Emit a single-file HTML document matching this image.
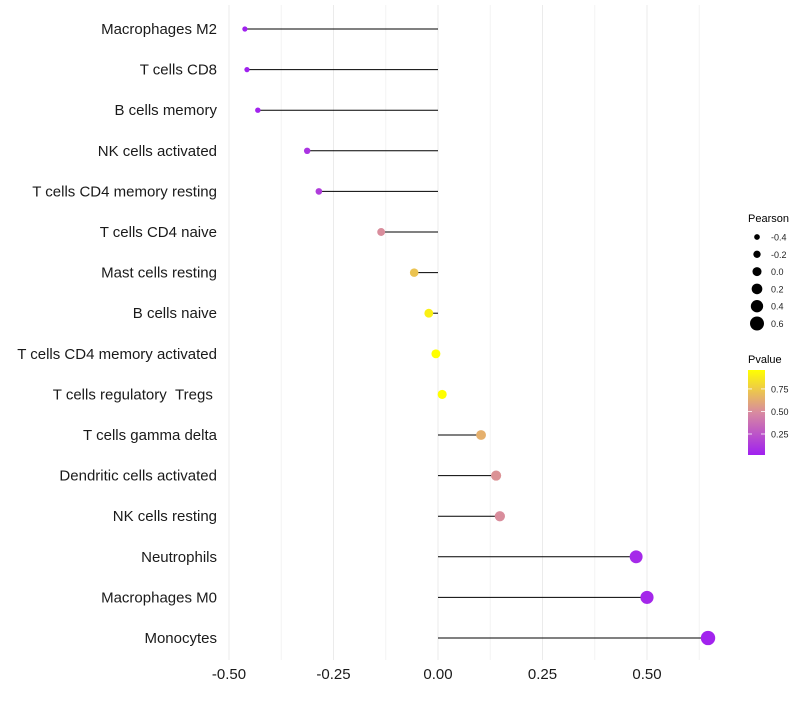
<!DOCTYPE html>
<html><head><meta charset="utf-8"><style>
body{margin:0;background:#fff;font-family:"Liberation Sans",sans-serif}
text{white-space:pre}
</style></head><body>
<svg id="c" width="800" height="700" xmlns="http://www.w3.org/2000/svg">
<defs><linearGradient id="pg" x1="0" y1="1" x2="0" y2="0">
<stop offset="0" stop-color="#a020f0"/><stop offset="0.5" stop-color="#d88aa0"/><stop offset="1" stop-color="#ffff00"/></linearGradient></defs>
</svg>
<script>
const categories=["Macrophages M2","T cells CD8","B cells memory","NK cells activated","T cells CD4 memory resting","T cells CD4 naive","Mast cells resting","B cells naive","T cells CD4 memory activated","T cells regulatory\u00a0\u00a0Tregs\u00a0","T cells gamma delta","Dendritic cells activated","NK cells resting","Neutrophils","Macrophages M0","Monocytes"];
const pearson=[-0.462,-0.457,-0.431,-0.313,-0.285,-0.136,-0.057,-0.022,-0.005,0.010,0.103,0.139,0.148,0.474,0.500,0.646];
const pvalue=[0.02,0.02,0.03,0.10,0.14,0.50,0.72,0.90,0.97,0.96,0.64,0.52,0.50,0.06,0.05,0.03];
const xTicks=[-0.5,-0.25,0,0.25,0.5];
const xTickLabels=["-0.50","-0.25","0.00","0.25","0.50"];
const sizeLegend=[-0.4,-0.2,0.0,0.2,0.4,0.6];
const pLegend=[0.25,0.50,0.75];
const svg=document.getElementById('c');
const NS="http://www.w3.org/2000/svg";
const x=v=>438+v*418;
const y=i=>29+i*40.6;
const r=v=>2.6+(v+0.46)/(1.11)*4.6;
function col(p){
 const t=Math.max(0,Math.min(1,(p-0.017)/(0.96-0.017)));
 const a=[160,32,240],m=[216,138,160],b=[255,255,0];
 let c;if(t<0.5){const u=t/0.5;c=a.map((v,k)=>v+(m[k]-v)*u);}else{const u=(t-0.5)/0.5;c=m.map((v,k)=>v+(b[k]-v)*u);}
 return `rgb(${c.map(Math.round).join(',')})`;
}
function mk(tag,attrs,parent){const e=document.createElementNS(NS,tag);for(const k in attrs)e.setAttribute(k,attrs[k]);(parent||svg).appendChild(e);return e;}
for(let v=-0.5;v<=0.651;v+=0.125){
 const g=mk('line',{x1:x(v),x2:x(v),y1:5,y2:660,stroke:Math.abs((v*4)%1)<1e-6?'#ebebeb':'#f4f4f4','stroke-width':1});
 
 
}
categories.forEach((c,i)=>{
 const t=mk('text',{x:217,y:y(i)+5,'text-anchor':'end','font-size':15,fill:'#1a1a1a'});
 t.textContent=c;
 
 
 const l=mk('line',{x1:x(0),x2:x(pearson[i]),y1:y(i),y2:y(i),stroke:'#000','stroke-width':1});
 
 
 const p=mk('circle',{cx:x(pearson[i]),cy:y(i),r:r(pearson[i]),fill:col(pvalue[i])});
 
 
});
xTicks.forEach((v,i)=>{
 const t=mk('text',{x:x(v),y:679,'text-anchor':'middle','font-size':15,fill:'#1a1a1a'});
 t.textContent=xTickLabels[i];
 
 
});
let t=mk('text',{x:748,y:222,'font-size':11,fill:'#000'});t.textContent='Pearson';


sizeLegend.forEach((v,i)=>{
 const cy=237+i*17.3;
 const c=mk('circle',{cx:757,cy:cy,r:r(v),fill:'#000'});
 
 
 const l=mk('text',{x:771,y:cy+3.5,'font-size':9,fill:'#222'});l.textContent=v.toFixed(1);
 
 
});
t=mk('text',{x:748,y:363,'font-size':11,fill:'#000'});t.textContent='Pvalue';


const bar=mk('rect',{x:748,y:370,width:17,height:85,fill:'url(#pg)'});


pLegend.forEach(v=>{
 const cy=455-(v-0.017)/(0.96-0.017)*85;
 mk('line',{x1:748,x2:752,y1:cy,y2:cy,stroke:'#fff','stroke-width':0.8});
 mk('line',{x1:761,x2:765,y1:cy,y2:cy,stroke:'#fff','stroke-width':0.8});
 const l=mk('text',{x:771,y:cy+3.5,'font-size':9,fill:'#222'});l.textContent=v.toFixed(2);
 
 
});
</script>
</body></html>
